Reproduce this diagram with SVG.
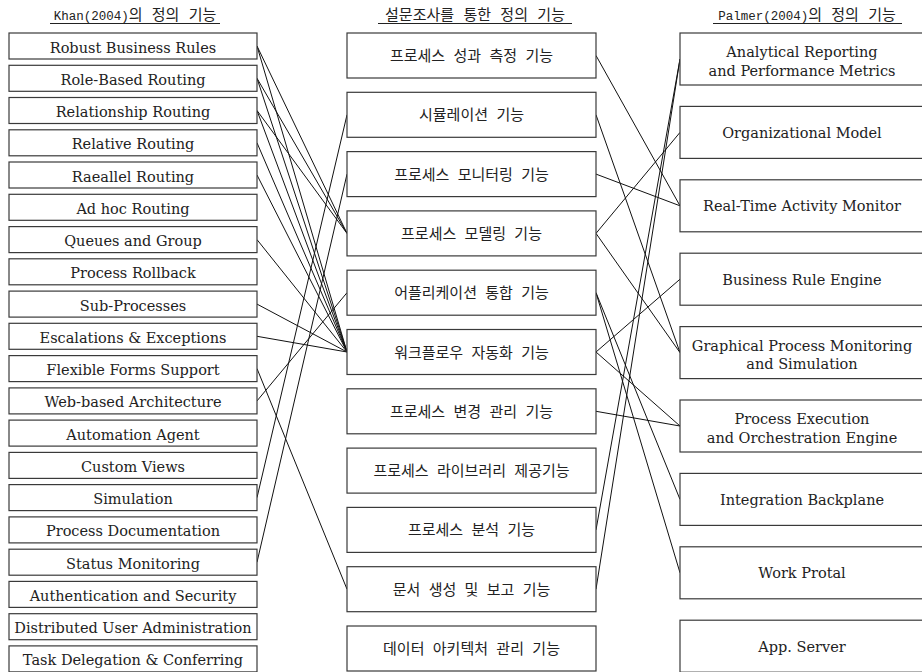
<svg xmlns="http://www.w3.org/2000/svg" width="922" height="672" viewBox="0 0 922 672">
<style>
  .bg{fill:#ffffff}
  .box{fill:#ffffff;stroke:#3a3a3a;stroke-width:1.2}
  .en{font-family:"DejaVu Serif","Liberation Serif",serif;font-size:14.5px;fill:#222;text-anchor:middle}
  .ko{font-family:"Noto Sans CJK KR","Noto Sans",sans-serif;font-size:15px;fill:#222;text-anchor:middle;word-spacing:5px}
  .hd{font-family:"Noto Sans CJK KR",sans-serif;font-size:15px;fill:#222;text-anchor:middle;word-spacing:6px}
  .hl{font-family:"Liberation Mono","Noto Sans CJK KR",monospace;font-size:12.5px}
  .ul{stroke:#222;stroke-width:1}
  .cn line{stroke:#111;stroke-width:1}
</style>
<rect class="bg" x="0" y="0" width="922" height="672"/>

<g id="headers">
  <text class="hd" x="135" y="20"><tspan class="hl">Khan(2004)</tspan>의 정의 기능</text>
  <line class="ul" x1="50" y1="23.5" x2="220" y2="23.5"/>
  <text class="hd" x="475" y="20">설문조사를 통한 정의 기능</text>
  <line class="ul" x1="378" y1="23.5" x2="572" y2="23.5"/>
  <text class="hd" x="807" y="20"><tspan class="hl">Palmer(2004)</tspan>의 정의 기능</text>
  <line class="ul" x1="713" y1="23.5" x2="902" y2="23.5"/>
</g>

<g id="connectors" class="cn">
  <line x1="257" y1="46" x2="347" y2="233.4"/>
  <line x1="257" y1="46" x2="347" y2="352"/>
  <line x1="257" y1="78.3" x2="347" y2="233.4"/>
  <line x1="257" y1="78.3" x2="347" y2="352"/>
  <line x1="257" y1="110.5" x2="347" y2="233.4"/>
  <line x1="257" y1="110.5" x2="347" y2="352"/>
  <line x1="257" y1="142.8" x2="347" y2="352"/>
  <line x1="257" y1="175" x2="347" y2="352"/>
  <line x1="257" y1="239.6" x2="347" y2="352"/>
  <line x1="257" y1="304.1" x2="347" y2="352"/>
  <line x1="257" y1="336.3" x2="347" y2="352"/>
  <line x1="257" y1="368.6" x2="347" y2="589.2"/>
  <line x1="257" y1="400.9" x2="347" y2="292.7"/>
  <line x1="257" y1="497.6" x2="347" y2="114.8"/>
  <line x1="257" y1="562.2" x2="347" y2="174.1"/>

  <line x1="596" y1="55.5" x2="680" y2="205.8"/>
  <line x1="596" y1="114.8" x2="680" y2="352.6"/>
  <line x1="596" y1="174.1" x2="680" y2="205.8"/>
  <line x1="596" y1="233.4" x2="680" y2="132.4"/>
  <line x1="596" y1="233.4" x2="680" y2="352.6"/>
  <line x1="596" y1="292.7" x2="680" y2="499.4"/>
  <line x1="596" y1="292.7" x2="680" y2="572.8"/>
  <line x1="596" y1="352" x2="680" y2="279.2"/>
  <line x1="596" y1="352" x2="680" y2="426"/>
  <line x1="596" y1="411.3" x2="680" y2="426"/>
  <line x1="596" y1="529.9" x2="680" y2="59"/>
  <line x1="596" y1="589.2" x2="680" y2="59"/>
</g>

<g id="k01"><rect class="box" x="9" y="33" width="248" height="26"/><text class="en" x="133" y="52.5">Robust Business Rules</text></g>
<g id="k02"><rect class="box" x="9" y="65.3" width="248" height="26"/><text class="en" x="133" y="84.8">Role-Based Routing</text></g>
<g id="k03"><rect class="box" x="9" y="97.5" width="248" height="26"/><text class="en" x="133" y="117">Relationship Routing</text></g>
<g id="k04"><rect class="box" x="9" y="129.8" width="248" height="26"/><text class="en" x="133" y="149.3">Relative Routing</text></g>
<g id="k05"><rect class="box" x="9" y="162" width="248" height="26"/><text class="en" x="133" y="181.5">Raeallel Routing</text></g>
<g id="k06"><rect class="box" x="9" y="194.3" width="248" height="26"/><text class="en" x="133" y="213.8">Ad hoc Routing</text></g>
<g id="k07"><rect class="box" x="9" y="226.6" width="248" height="26"/><text class="en" x="133" y="246.1">Queues and Group</text></g>
<g id="k08"><rect class="box" x="9" y="258.8" width="248" height="26"/><text class="en" x="133" y="278.3">Process Rollback</text></g>
<g id="k09"><rect class="box" x="9" y="291.1" width="248" height="26"/><text class="en" x="133" y="310.6">Sub-Processes</text></g>
<g id="k10"><rect class="box" x="9" y="323.3" width="248" height="26"/><text class="en" x="133" y="342.8">Escalations &amp; Exceptions</text></g>
<g id="k11"><rect class="box" x="9" y="355.6" width="248" height="26"/><text class="en" x="133" y="375.1">Flexible Forms Support</text></g>
<g id="k12"><rect class="box" x="9" y="387.9" width="248" height="26"/><text class="en" x="133" y="407.4">Web-based Architecture</text></g>
<g id="k13"><rect class="box" x="9" y="420.1" width="248" height="26"/><text class="en" x="133" y="439.6">Automation Agent</text></g>
<g id="k14"><rect class="box" x="9" y="452.4" width="248" height="26"/><text class="en" x="133" y="471.9">Custom Views</text></g>
<g id="k15"><rect class="box" x="9" y="484.6" width="248" height="26"/><text class="en" x="133" y="504.1">Simulation</text></g>
<g id="k16"><rect class="box" x="9" y="516.9" width="248" height="26"/><text class="en" x="133" y="536.4">Process Documentation</text></g>
<g id="k17"><rect class="box" x="9" y="549.2" width="248" height="26"/><text class="en" x="133" y="568.7">Status Monitoring</text></g>
<g id="k18"><rect class="box" x="9" y="581.4" width="248" height="26"/><text class="en" x="133" y="600.9">Authentication and Security</text></g>
<g id="k19"><rect class="box" x="9" y="613.7" width="248" height="26"/><text class="en" x="133" y="633.2">Distributed User Administration</text></g>
<g id="k20"><rect class="box" x="9" y="645.9" width="248" height="26"/><text class="en" x="133" y="665.4">Task Delegation &amp; Conferring</text></g>

<g id="s01"><rect class="box" x="347" y="33" width="249" height="45"/><text class="ko" x="471.5" y="61">프로세스 성과 측정 기능</text></g>
<g id="s02"><rect class="box" x="347" y="92.3" width="249" height="45"/><text class="ko" x="471.5" y="120.3">시뮬레이션 기능</text></g>
<g id="s03"><rect class="box" x="347" y="151.6" width="249" height="45"/><text class="ko" x="471.5" y="179.6">프로세스 모니터링 기능</text></g>
<g id="s04"><rect class="box" x="347" y="210.9" width="249" height="45"/><text class="ko" x="471.5" y="238.9">프로세스 모델링 기능</text></g>
<g id="s05"><rect class="box" x="347" y="270.2" width="249" height="45"/><text class="ko" x="471.5" y="298.2">어플리케이션 통합 기능</text></g>
<g id="s06"><rect class="box" x="347" y="329.5" width="249" height="45"/><text class="ko" x="471.5" y="357.5">워크플로우 자동화 기능</text></g>
<g id="s07"><rect class="box" x="347" y="388.8" width="249" height="45"/><text class="ko" x="471.5" y="416.8">프로세스 변경 관리 기능</text></g>
<g id="s08"><rect class="box" x="347" y="448.1" width="249" height="45"/><text class="ko" x="471.5" y="476.1">프로세스 라이브러리 제공기능</text></g>
<g id="s09"><rect class="box" x="347" y="507.4" width="249" height="45"/><text class="ko" x="471.5" y="535.4">프로세스 분석 기능</text></g>
<g id="s10"><rect class="box" x="347" y="566.7" width="249" height="45"/><text class="ko" x="471.5" y="594.7">문서 생성 및 보고 기능</text></g>
<g id="s11"><rect class="box" x="347" y="626" width="249" height="45"/><text class="ko" x="471.5" y="654">데이터 아키텍처 관리 기능</text></g>

<g id="p01"><rect class="box" x="680" y="33" width="244" height="52"/><text class="en" x="802" y="57">Analytical Reporting</text><text class="en" x="802" y="75.5">and Performance Metrics</text></g>
<g id="p02"><rect class="box" x="680" y="106.4" width="244" height="52"/><text class="en" x="802" y="138">Organizational Model</text></g>
<g id="p03"><rect class="box" x="680" y="179.8" width="244" height="52"/><text class="en" x="802" y="211.4">Real-Time Activity Monitor</text></g>
<g id="p04"><rect class="box" x="680" y="253.2" width="244" height="52"/><text class="en" x="802" y="284.8">Business Rule Engine</text></g>
<g id="p05"><rect class="box" x="680" y="326.6" width="244" height="52"/><text class="en" x="802" y="350.6">Graphical Process Monitoring</text><text class="en" x="802" y="369.1">and Simulation</text></g>
<g id="p06"><rect class="box" x="680" y="400" width="244" height="52"/><text class="en" x="802" y="424">Process Execution</text><text class="en" x="802" y="442.5">and Orchestration Engine</text></g>
<g id="p07"><rect class="box" x="680" y="473.4" width="244" height="52"/><text class="en" x="802" y="505">Integration Backplane</text></g>
<g id="p08"><rect class="box" x="680" y="546.8" width="244" height="52"/><text class="en" x="802" y="578.4">Work Protal</text></g>
<g id="p09"><rect class="box" x="680" y="620.2" width="244" height="52"/><text class="en" x="802" y="651.8">App. Server</text></g>
</svg>
